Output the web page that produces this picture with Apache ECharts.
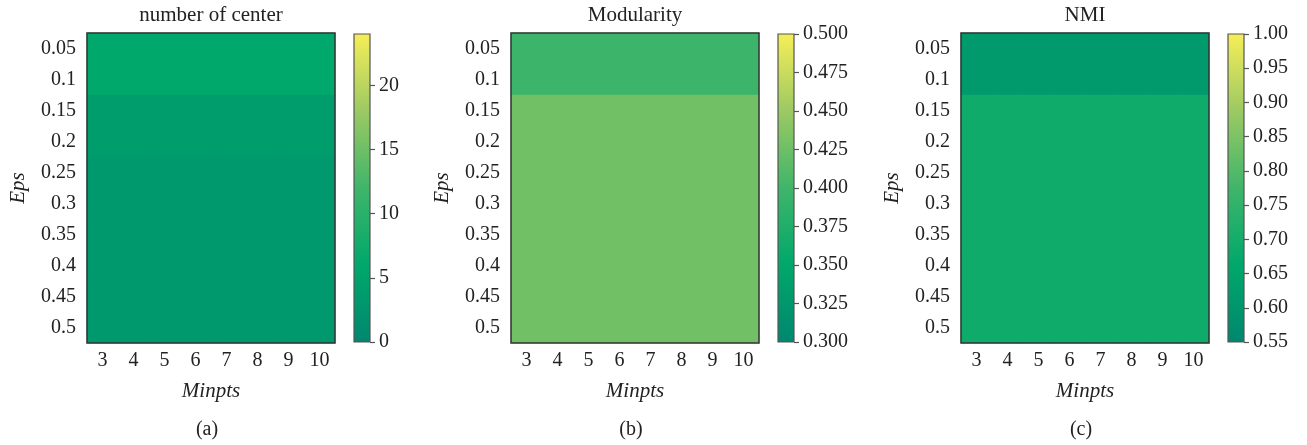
<!DOCTYPE html>
<html>
<head>
<meta charset="utf-8">
<script src="https://cdn.jsdelivr.net/npm/echarts@6/dist/echarts.min.js"></script>
<style>
  html, body { margin: 0; padding: 0; background: #fff; }
  #main { width: 1307px; height: 445px; }
</style>
</head>
<body>
<div id="main"></div>
<script>
// axes
const minpts = ['3', '4', '5', '6', '7', '8', '9', '10']
const eps = ['0.05', '0.1', '0.15', '0.2', '0.25', '0.3', '0.35', '0.4', '0.45', '0.5']

// one value per Eps row (same for every Minpts)
const centerRows = [6, 6, 4, 4, 3, 3, 3, 3, 3, 3]
const modularityRows = [0.398, 0.398, 0.427, 0.427, 0.427, 0.427, 0.427, 0.427, 0.427, 0.427]
const nmiRows = [0.615, 0.615, 0.69, 0.69, 0.69, 0.69, 0.69, 0.69, 0.69, 0.69]

// colour bar ranges
const centerRange = [0, 24]
const modularityRange = [0.3, 0.5]
const nmiRange = [0.55, 1.0]

const palette = ['#00876f', '#00a86b', '#3fb56a', '#9cc963', '#f6ee58']
const FONT = 'Liberation Serif'

const panels = [
  { title: 'number of center', tag: '(a)', rows: centerRows, range: centerRange, interval: 5, digits: 0, left: 87, barLeft: 354 },
  { title: 'Modularity', tag: '(b)', rows: modularityRows, range: modularityRange, interval: 0.025, digits: 3, left: 511, barLeft: 778 },
  { title: 'NMI', tag: '(c)', rows: nmiRows, range: nmiRange, interval: 0.05, digits: 2, left: 961, barLeft: 1228 }
]

const chart = echarts.init(document.getElementById('main'))

const option = {
  animation: false,
  backgroundColor: '#fff',
  title: [],
  grid: [],
  xAxis: [],
  yAxis: [],
  visualMap: [],
  series: []
}

panels.forEach((p, i) => {
  const g = i * 2
  const cx = p.left + 124
  option.title.push({
    text: p.title, left: cx, top: 5, textAlign: 'center', padding: 0,
    textStyle: { fontFamily: FONT, fontSize: 21, fontWeight: 'normal', color: '#222' }
  })
  option.title.push({
    text: p.tag, left: cx - 4, top: 420, textAlign: 'center', padding: 0,
    textStyle: { fontFamily: FONT, fontSize: 20, fontWeight: 'normal', color: '#222' }
  })

  // heatmap grid
  option.grid.push({
    left: p.left, top: 33, width: 248, height: 310,
    show: true, z: 5, backgroundColor: 'transparent', borderColor: '#333', borderWidth: 1.5
  })
  // colour bar grid
  option.grid.push({
    left: p.barLeft, top: 34, width: 16, height: 308,
    show: true, z: 5, backgroundColor: 'transparent', borderColor: '#555', borderWidth: 1.2
  })

  option.xAxis.push({
    type: 'category', gridIndex: g, data: minpts,
    name: 'Minpts', nameLocation: 'middle', nameGap: 38,
    nameTextStyle: { fontFamily: FONT, fontStyle: 'italic', fontSize: 21, color: '#222' },
    axisLine: { show: false },
    axisTick: { alignWithLabel: true, length: 5, lineStyle: { color: '#333', width: 1.5 } },
    axisLabel: { fontFamily: FONT, fontSize: 20, color: '#222', margin: 8 },
    splitLine: { show: false }
  })
  option.yAxis.push({
    type: 'category', gridIndex: g, data: eps, inverse: true,
    name: 'Eps', nameLocation: 'middle', nameGap: 58,
    nameTextStyle: { fontFamily: FONT, fontStyle: 'italic', fontSize: 21, color: '#222' },
    axisLine: { show: false },
    axisTick: { alignWithLabel: true, length: 5, lineStyle: { color: '#333', width: 1.5 } },
    axisLabel: { fontFamily: FONT, fontSize: 20, color: '#222', margin: 11 },
    splitLine: { show: false }
  })

  option.xAxis.push({
    type: 'category', gridIndex: g + 1, data: ['bar'], show: false
  })
  option.yAxis.push({
    type: 'value', gridIndex: g + 1, position: 'right',
    min: p.range[0], max: p.range[1], interval: p.interval,
    axisLine: { show: false },
    axisTick: { show: true, inside: false, length: 5, lineStyle: { color: '#555', width: 1.2 } },
    axisLabel: {
      fontFamily: FONT, fontSize: 20, color: '#222', margin: 9,
      showMaxLabel: i !== 0,
      formatter: v => v.toFixed(p.digits)
    },
    splitLine: { show: false }
  })

  const data = []
  p.rows.forEach((val, r) => {
    minpts.forEach((m, c) => data.push([c, r, val]))
  })

  option.visualMap.push({
    show: false, type: 'continuous', seriesIndex: option.series.length,
    min: p.range[0], max: p.range[1], dimension: 2,
    inRange: { color: palette }
  })

  option.series.push({
    type: 'heatmap', xAxisIndex: g, yAxisIndex: g, data: data,
    itemStyle: { borderWidth: 0 }
  })

  option.series.push({
    type: 'custom', xAxisIndex: g + 1, yAxisIndex: g + 1,
    data: [[0, p.range[0], p.range[1]]],
    renderItem: (params, api) => {
      const lo = api.coord([0, api.value(1)])
      const hi = api.coord([0, api.value(2)])
      const w = api.size([1, 0])[0]
      return {
        type: 'rect',
        shape: { x: lo[0] - w / 2, y: hi[1], width: w, height: lo[1] - hi[1] },
        style: {
          fill: new echarts.graphic.LinearGradient(0, 1, 0, 0,
            palette.map((c, k) => ({ offset: k / (palette.length - 1), color: c })))
        }
      }
    }
  })
})

chart.setOption(option)
</script>
</body>
</html>
